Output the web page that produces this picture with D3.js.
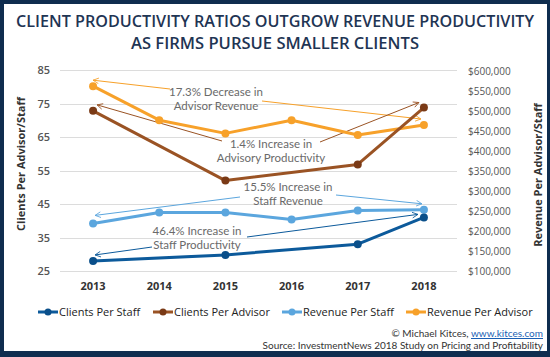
<!DOCTYPE html>
<html>
<head>
<meta charset="utf-8">
<script src="https://cdn.jsdelivr.net/npm/d3@7"></script>
<style>
  html, body { margin: 0; padding: 0; background: #fff; }
  svg { display: block; }
  text { font-family: "Open Sans", "DejaVu Sans", sans-serif; }
</style>
</head>
<body>
<svg id="chart" width="550" height="357"></svg>
<script>
// ---------- DATA ----------
const years = ["2013", "2014", "2015", "2016", "2017", "2018"];
const clientsPerStaff   = [28.0, null, 29.8, null, 33.0, 41.0];
const clientsPerAdvisor = [72.8, null, 52.0, null, 56.8, 73.8];
const revenuePerStaff   = [219000, 246000, 246000, 229000, 251000, 253000];
const revenuePerAdvisor = [562000, 477000, 444000, 477000, 440000, 465000];
const leftTicks  = [25, 35, 45, 55, 65, 75, 85];
const rightTicks = [100000, 150000, 200000, 250000, 300000, 350000, 400000, 450000, 500000, 550000, 600000];
const seriesNames = ["Clients Per Staff", "Clients Per Advisor", "Revenue Per Staff", "Revenue Per Advisor"];
const titleLines = ["CLIENT PRODUCTIVITY RATIOS OUTGROW REVENUE PRODUCTIVITY", "AS FIRMS PURSUE SMALLER CLIENTS"];
const annotationTexts = [
  ["17.3% Decrease in", "Advisor Revenue"],
  ["1.4% Increase in", "Advisory Productivity"],
  ["15.5% Increase in", "Staff Revenue"],
  ["46.4% Increase in", "Staff Productivity"]
];

// ---------- STYLE ----------
const navy = "#0f2d4f";
const colors = ["#0c5a9b", "#9a5324", "#5ba6de", "#f7a12a"];
const dotColors = ["#0a4f8a", "#7a3a16", "#5ba6de", "#f7a12a"];

const svg = d3.select("#chart");
svg.append("rect").attr("width", 550).attr("height", 357).attr("fill", navy);
svg.append("rect").attr("x", 4).attr("y", 4).attr("width", 543).attr("height", 347).attr("fill", "#fff");

// title
titleLines.forEach((line, i) => {
  const t = svg.append("text")
    .attr("x", 275).attr("y", 27 + i * 22)
    .attr("text-anchor", "middle")
    .attr("font-size", 16).attr("font-weight", 600).attr("fill", "#1f3554")
    .text(line);
  const w = t.node().getComputedTextLength();
  const target = i === 0 ? 518 : 288;
  if (Math.abs(w - target) > 2) {
    t.attr("textLength", target).attr("lengthAdjust", "spacingAndGlyphs");
  }
});

// scales
const x = d3.scaleBand().domain(years).range([60, 457]).padding(0);
const cx = d => x(d) + x.bandwidth() / 2;
const yL = d3.scaleLinear().domain([25, 85]).range([271, 70]);
const yR = d3.scaleLinear().domain([100000, 600000]).range([271, 71]);

// gridlines
svg.append("g").selectAll("line").data(leftTicks).join("line")
  .attr("x1", 60).attr("x2", 457)
  .attr("y1", d => Math.round(yL(d)) + 0.5).attr("y2", d => Math.round(yL(d)) + 0.5)
  .attr("stroke", "#dcdcdc").attr("stroke-width", 1);

// left axis
const gL = svg.append("g").attr("transform", "translate(60,0)")
  .call(d3.axisLeft(yL).tickValues(leftTicks).tickSize(0).tickPadding(10));
gL.select(".domain").remove();
gL.selectAll("text").attr("font-size", 11).attr("font-weight", 600).attr("fill", "#555")
  .style("font-family", "'Open Sans', sans-serif");

// right axis
const gR = svg.append("g").attr("transform", "translate(457,0)")
  .call(d3.axisRight(yR).tickValues(rightTicks).tickSize(0).tickPadding(11)
    .tickFormat(d => "$" + d3.format(",")(d)));
gR.select(".domain").remove();
gR.selectAll("text").attr("font-size", 10).attr("font-weight", 500).attr("fill", "#555")
  .style("font-family", "'Open Sans', sans-serif");

// x axis
const gX = svg.append("g").attr("transform", "translate(0,271)")
  .call(d3.axisBottom(x).tickSize(0).tickPadding(11));
gX.select(".domain").remove();
gX.selectAll("text").attr("font-size", 11).attr("font-weight", 700).attr("fill", "#333")
  .style("font-family", "'Open Sans', sans-serif");

// axis titles
svg.append("text").attr("transform", "translate(25,164) rotate(-90)")
  .attr("text-anchor", "middle").attr("font-size", 11).attr("font-weight", 700).attr("fill", "#333")
  .text("Clients Per Advisor/Staff");
svg.append("text").attr("transform", "translate(542,175) rotate(-90)")
  .attr("text-anchor", "middle").attr("font-size", 11).attr("font-weight", 700).attr("fill", "#333")
  .text("Revenue Per Advisor/Staff");

// ---------- annotations ----------
const defs = svg.append("defs");
colors.forEach((c, i) => {
  defs.append("marker").attr("id", "arr" + i)
    .attr("viewBox", "0 0 10 10").attr("refX", 9).attr("refY", 5)
    .attr("markerWidth", 7).attr("markerHeight", 7).attr("orient", "auto")
    .attr("markerUnits", "userSpaceOnUse")
    .append("path").attr("d", "M1,1 L9,5 L1,9").attr("fill", "none")
    .attr("stroke", c).attr("stroke-width", 1.2);
});

const first = years[0], last = years[years.length - 1];
const ann = [
  { series: 3, scale: yR, vals: revenuePerAdvisor, tx: 216, ty: 96,
    from: [[170, 89], [262, 101]], dy: [-6, -6], dx: [0, -3] },
  { series: 1, scale: yL, vals: clientsPerAdvisor, tx: 271, ty: 148,
    from: [[222, 141], [320, 142]], dy: [-6, -5], dx: [4, -5] },
  { series: 2, scale: yR, vals: revenuePerStaff, tx: 288, ty: 191,
    from: [[240, 197], [336, 195]], dy: [-8, -6], dx: [2, -2] },
  { series: 0, scale: yL, vals: clientsPerStaff, tx: 197, ty: 235,
    from: [[152, 247], [247, 237]], dy: [-6, -3], dx: [2, -6] }
];

ann.forEach((a, k) => {
  const c = colors[a.series];
  const ends = [
    [cx(first) + a.dx[0], a.scale(a.vals[0]) + a.dy[0]],
    [cx(last) + a.dx[1], a.scale(a.vals[a.vals.length - 1]) + a.dy[1]]
  ];
  [0, 1].forEach(j => {
    svg.append("line")
      .attr("x1", a.from[j][0]).attr("y1", a.from[j][1])
      .attr("x2", ends[j][0]).attr("y2", ends[j][1])
      .attr("stroke", c).attr("stroke-width", 1)
      .attr("marker-end", `url(#arr${a.series})`);
  });
  annotationTexts[k].forEach((line, i) => {
    svg.append("text").attr("text-anchor", "middle")
      .style("font-family", "Lato, sans-serif")
      .attr("font-size", 11.5).attr("fill", "#6a6a6a")
      .attr("x", a.tx).attr("y", a.ty + i * 14).text(line);
  });
});

// ---------- series ----------
const allSeries = [
  { vals: clientsPerStaff, scale: yL },
  { vals: clientsPerAdvisor, scale: yL },
  { vals: revenuePerStaff, scale: yR },
  { vals: revenuePerAdvisor, scale: yR }
];
const drawOrder = [3, 2, 1, 0];
drawOrder.forEach(i => {
  const s = allSeries[i];
  const pts = years.map((yr, j) => ({ yr, v: s.vals[j] })).filter(d => d.v != null);
  const line = d3.line().x(d => cx(d.yr)).y(d => s.scale(d.v));
  svg.append("path").datum(pts).attr("d", line)
    .attr("fill", "none").attr("stroke", colors[i]).attr("stroke-width", 3)
    .attr("stroke-linejoin", "round");
  svg.append("g").selectAll("circle").data(pts).join("circle")
    .attr("cx", d => cx(d.yr)).attr("cy", d => s.scale(d.v)).attr("r", 4)
    .attr("fill", dotColors[i]);
});

// ---------- legend ----------
const legX = [38, 153, 282, 406];
const lg = svg.append("g");
seriesNames.forEach((n, i) => {
  const g = lg.append("g").attr("transform", `translate(${legX[i]},312)`);
  g.append("line").attr("x1", 0).attr("x2", 20).attr("y1", 0).attr("y2", 0)
    .attr("stroke", colors[i]).attr("stroke-width", 3);
  g.append("circle").attr("cx", 10).attr("cy", 0).attr("r", 3.5).attr("fill", dotColors[i]);
  g.append("text").attr("x", 21).attr("y", 4).attr("font-size", 11).attr("font-weight", 500)
    .attr("fill", "#222").text(n);
});

// ---------- footer ----------
const f1 = svg.append("text").attr("x", 543).attr("y", 337).attr("text-anchor", "end")
  .style("font-family", "Lato, sans-serif").attr("font-size", 10).attr("fill", "#333");
f1.append("tspan").text("© Michael Kitces, ");
f1.append("tspan").attr("fill", "#1a5fb4").attr("text-decoration", "underline").text("www.kitces.com");
svg.append("text").attr("x", 543).attr("y", 349).attr("text-anchor", "end")
  .style("font-family", "Lato, sans-serif").attr("font-size", 10).attr("fill", "#333")
  .text("Source: InvestmentNews 2018 Study on Pricing and Profitability");
</script>
</body>
</html>
